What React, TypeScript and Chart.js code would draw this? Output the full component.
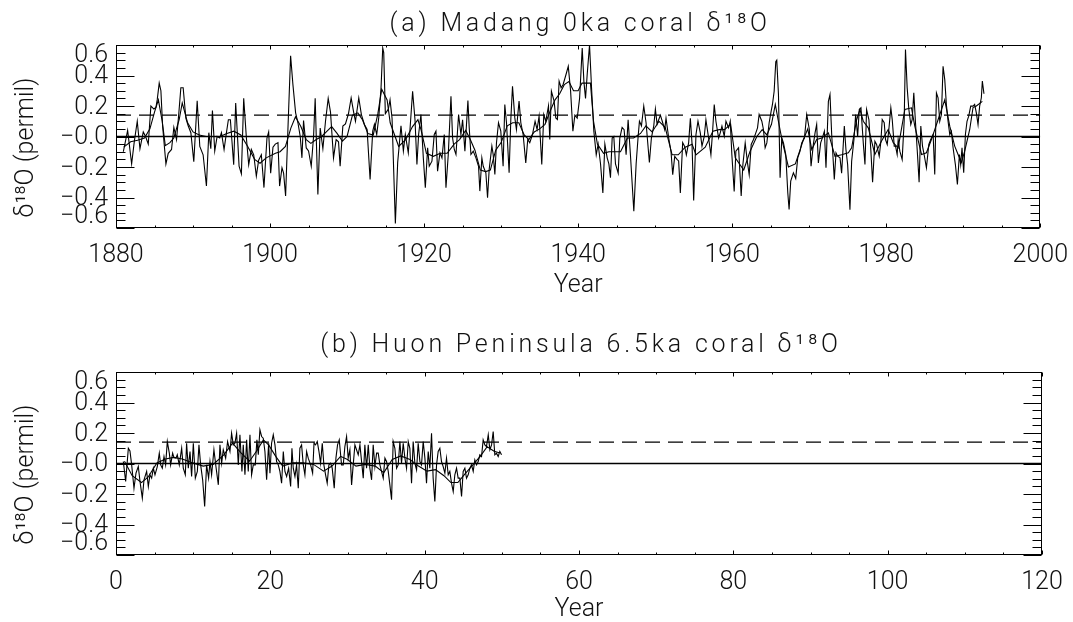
import React, { useEffect, useRef } from "react";
import { Chart, registerables } from "chart.js";

Chart.register(...registerables);

// ---------------- DATA ----------------
// (a) Madang 0ka coral d18O anomaly: [year, permil]
const madangRaw: [number, number][] = [
  [1880.95,-0.10],[1881.51,0.04],[1882.03,-0.18],[1882.37,-0.035],[1882.76,0.10],[1883.11,-0.08],[1883.54,0.03],[1883.84,0.00],[1884.19,-0.05],[1884.53,0.20],[1884.92,0.18],[1885.18,0.19],[1885.35,0.24],[1885.61,0.35],[1885.83,0.30],[1886.05,0.07],[1886.48,-0.18],[1886.78,-0.11],[1887.21,-0.085],[1887.51,0.06],[1887.86,-0.02],[1888.16,0.155],[1888.42,0.32],[1888.72,0.32],[1889.07,0.12],[1889.37,0.07],[1889.72,0.025],
  [1890.10,-0.165],[1890.54,0.235],[1890.88,-0.065],[1891.31,-0.12],[1891.74,-0.325],[1892.05,0.025],[1892.31,-0.08],[1892.52,0.17],[1892.82,-0.095],[1893.13,0.0],[1893.47,-0.01],[1893.69,0.025],[1894.03,-0.085],[1894.34,0.025],[1894.59,0.11],[1894.85,0.11],[1895.28,-0.185],[1895.54,0.22],[1895.98,-0.195],[1896.28,-0.245],[1896.58,0.25],[1896.93,-0.01],[1897.23,-0.185],[1897.57,-0.085],[1897.88,-0.12],[1898.22,-0.26],[1898.52,-0.155],[1898.87,-0.12],[1899.21,-0.335],[1899.60,-0.01],[1899.82,0.03],
  [1900.08,-0.24],[1900.38,-0.07],[1900.68,-0.05],[1901.03,-0.04],[1901.24,-0.325],[1901.55,-0.205],[1901.76,-0.24],[1902.02,-0.39],[1902.32,0.045],[1902.67,0.53],[1902.97,0.34],[1903.32,0.155],[1903.62,0.09],[1903.92,0.0],[1904.14,-0.14],[1904.35,0.105],[1904.70,-0.075],[1905.00,-0.095],[1905.35,-0.195],[1905.65,0.0],[1905.86,0.25],[1906.21,-0.38],[1906.51,0.055],[1906.86,-0.08],[1907.20,0.10],[1907.55,0.25],[1907.85,0.16],[1908.24,-0.14],[1908.58,-0.02],[1908.89,-0.035],[1909.10,-0.195],[1909.45,0.068],[1909.79,0.083],
  [1910.18,0.149],[1910.53,0.253],[1910.87,0.155],[1911.09,0.10],[1911.52,0.253],[1911.86,0.144],[1912.25,0.079],[1912.60,0.046],[1912.99,-0.282],[1913.33,0.035],[1913.55,0.079],[1913.85,0.013],[1914.11,0.122],[1914.41,0.319],[1914.63,0.58],[1914.76,0.55],[1914.97,0.15],[1915.36,0.18],[1915.58,0.24],[1915.84,0.12],[1916.27,-0.57],[1916.57,-0.17],[1917.00,0.07],[1917.31,-0.095],[1917.56,0.013],[1917.95,-0.107],[1918.17,0.046],[1918.51,0.297],[1918.82,0.11],[1919.07,-0.184],[1919.29,0.013],[1919.59,0.144],[1919.90,-0.140],
  [1920.16,-0.336],[1920.46,-0.074],[1920.67,-0.195],[1921.02,-0.162],[1921.32,0.013],[1921.54,0.035],[1921.75,-0.227],[1922.06,-0.107],[1922.32,-0.140],[1922.62,0.013],[1922.84,-0.336],[1923.14,-0.118],[1923.49,0.264],[1923.70,-0.009],[1923.92,-0.085],[1924.14,-0.118],[1924.48,0.144],[1924.78,0.013],[1925.00,0.11],[1925.30,-0.096],[1925.69,0.236],[1925.86,0.057],[1926.08,-0.118],[1926.38,-0.096],[1926.73,-0.140],[1927.07,-0.195],[1927.24,-0.358],[1927.50,-0.140],[1927.68,-0.195],[1928.02,-0.238],[1928.24,-0.402],[1928.45,-0.216],[1928.80,-0.063],[1928.97,-0.118],[1929.19,-0.249],[1929.40,-0.041],[1929.66,0.090],[1929.96,0.035],
  [1930.26,-0.195],[1930.48,0.210],[1930.70,0.090],[1931.04,-0.238],[1931.26,0.112],[1931.48,0.330],[1931.78,0.122],[1931.99,0.046],[1932.33,0.232],[1932.56,0.09],[1932.86,0.013],[1933.20,-0.173],[1933.46,-0.020],[1933.72,-0.041],[1934.07,0.013],[1934.41,0.10],[1934.67,0.046],[1934.93,0.133],[1935.28,-0.184],[1935.54,0.144],[1935.80,0.10],[1936.15,0.20],[1936.32,-0.02],[1936.53,0.297],[1936.88,0.232],[1937.10,0.122],[1937.31,0.112],[1937.53,0.363],[1937.79,0.320],[1938.05,0.341],[1938.39,0.40],[1938.72,0.46],[1939.02,0.30],[1939.32,0.035],[1939.58,0.14],[1939.88,0.12],
  [1940.19,0.25],[1940.53,0.58],[1940.75,0.36],[1940.96,0.25],[1941.18,0.41],[1941.48,0.60],[1941.74,0.32],[1942.04,0.035],[1942.35,-0.12],[1942.60,-0.05],[1942.91,-0.18],[1943.21,-0.37],[1943.47,-0.05],[1943.77,-0.14],[1943.99,-0.18],[1944.20,-0.27],[1944.42,-0.01],[1944.63,0.00],[1944.85,-0.18],[1945.20,-0.24],[1945.41,-0.01],[1945.71,0.06],[1945.97,0.045],[1946.23,-0.12],[1946.49,0.11],[1946.79,-0.12],[1947.23,-0.49],[1947.53,-0.18],[1947.79,0.00],[1947.96,0.10],[1948.22,0.07],[1948.52,0.20],[1948.82,0.09],[1949.25,-0.17],[1949.51,-0.01],[1949.82,0.07],
  [1950.03,0.18],[1950.25,0.08],[1950.46,0.11],[1950.68,0.14],[1950.98,0.09],[1951.24,0.045],[1951.41,0.12],[1951.76,-0.01],[1952.06,-0.10],[1952.28,-0.25],[1952.54,-0.13],[1952.84,-0.15],[1953.05,-0.16],[1953.27,-0.37],[1953.57,-0.04],[1953.83,-0.065],[1954.05,-0.12],[1954.35,-0.04],[1954.57,0.12],[1954.78,-0.04],[1955.00,-0.42],[1955.30,0.013],[1955.56,0.10],[1955.86,0.024],[1956.08,-0.063],[1956.38,0.002],[1956.59,0.11],[1956.94,-0.01],[1957.24,-0.12],[1957.46,0.035],[1957.67,0.21],[1957.89,0.10],[1958.24,-0.01],[1958.45,0.024],[1958.67,0.068],[1958.97,0.002],[1959.19,0.10],[1959.53,0.057],[1959.75,0.10],[1959.96,-0.12],
  [1960.26,-0.36],[1960.48,-0.096],[1960.83,-0.074],[1961.17,-0.39],[1961.39,-0.184],[1961.69,-0.042],[1961.99,-0.173],[1962.21,-0.25],[1962.47,-0.052],[1962.77,-0.02],[1963.07,0.024],[1963.29,0.057],[1963.50,0.144],[1963.85,0.10],[1964.06,0.046],[1964.28,-0.074],[1964.50,-0.042],[1964.80,0.09],[1965.06,0.166],[1965.23,0.21],[1965.45,0.297],[1965.66,0.49],[1965.79,0.50],[1966.01,0.275],[1966.22,-0.27],[1966.44,-0.01],[1966.66,-0.042],[1966.96,-0.118],[1967.22,-0.369],[1967.39,-0.479],[1967.60,-0.293],[1967.95,-0.238],[1968.25,-0.275],[1968.51,-0.14],[1968.81,-0.096],[1969.03,-0.042],[1969.38,-0.01],[1969.68,0.144],
  [1970.02,0.046],[1970.24,-0.195],[1970.54,-0.052],[1970.76,0.024],[1970.97,0.079],[1971.19,-0.173],[1971.49,-0.042],[1971.71,-0.009],[1971.97,0.035],[1972.18,-0.205],[1972.49,0.23],[1972.70,0.275],[1972.92,0.013],[1973.26,-0.282],[1973.48,-0.107],[1973.69,-0.129],[1974.00,-0.140],[1974.21,-0.24],[1974.56,0.068],[1974.77,-0.085],[1974.99,-0.184],[1975.29,-0.48],[1975.51,-0.162],[1975.81,-0.02],[1976.03,0.144],[1976.29,0.002],[1976.50,0.177],[1976.72,0.188],[1977.02,-0.042],[1977.24,-0.184],[1977.45,0.177],[1977.75,0.111],[1978.01,-0.096],[1978.23,-0.30],[1978.53,-0.031],[1978.75,-0.052],[1979.09,-0.129],[1979.31,-0.031],[1979.48,0.111],[1979.74,0.09],[1979.91,-0.02],
  [1980.13,-0.052],[1980.34,0.046],[1980.60,0.188],[1980.78,0.111],[1981.04,-0.063],[1981.21,-0.063],[1981.42,-0.118],[1981.55,-0.02],[1981.77,-0.096],[1982.07,-0.151],[1982.33,0.10],[1982.50,0.57],[1982.72,0.319],[1982.94,0.177],[1983.19,0.079],[1983.37,0.111],[1983.58,0.286],[1983.80,0.09],[1984.06,-0.118],[1984.27,-0.30],[1984.49,0.068],[1984.71,-0.063],[1984.92,-0.118],[1985.22,-0.205],[1985.53,-0.052],[1985.78,-0.02],[1986.09,0.013],[1986.30,-0.249],[1986.52,0.286],[1986.73,0.254],[1986.95,0.10],[1987.17,0.144],[1987.38,0.461],[1987.60,0.373],[1987.81,0.210],[1988.03,0.10],[1988.25,0.013],[1988.46,0.035],[1988.68,-0.074],[1988.98,-0.184],[1989.24,-0.315],[1989.50,-0.118],[1989.67,-0.184],[1989.84,-0.074],
  [1990.06,-0.238],[1990.28,0.013],[1990.49,0.10],[1990.71,0.133],[1990.97,0.199],[1991.27,0.199],[1991.48,0.21],[1991.70,0.155],[1991.92,0.079],[1992.13,0.199],[1992.35,0.254],[1992.48,0.363],[1992.69,0.28],
];

const madangSmooth: [number, number][] = [
  [1881.0,-0.07],[1881.9,-0.035],[1882.8,-0.025],[1883.7,-0.01],[1884.4,0.05],[1885.0,0.16],[1885.5,0.24],[1886.0,0.10],[1886.4,-0.06],[1887.0,-0.04],[1887.5,-0.01],[1888.2,0.11],[1888.6,0.22],[1889.3,0.09],[1890.0,0.03],[1890.8,0.01],[1891.7,0.00],[1892.6,0.00],[1893.5,0.00],[1894.4,0.02],[1895.3,0.035],[1896.2,0.01],[1897.1,-0.065],[1898.0,-0.15],[1898.7,-0.175],[1899.5,-0.14],[1900.7,-0.11],[1901.3,-0.10],[1902.0,-0.065],[1902.7,0.055],[1903.3,0.13],[1904.0,0.065],[1904.7,-0.02],[1905.3,-0.045],[1906.0,-0.02],[1906.7,0.00],[1907.4,0.035],[1908.0,0.065],[1908.7,0.02],[1909.4,-0.03],
  [1910.0,0.00],[1910.7,0.14],[1911.4,0.155],[1912.0,0.11],[1912.7,0.02],[1913.4,0.01],[1914.0,0.15],[1914.5,0.31],[1915.2,0.24],[1915.6,0.09],[1916.7,-0.065],[1917.6,-0.02],[1918.5,0.065],[1919.2,0.11],[1919.6,0.045],[1920.3,-0.11],[1921.2,-0.13],[1922.1,-0.11],[1923.0,-0.11],[1923.9,-0.05],[1924.6,-0.02],[1925.4,0.04],[1926.0,-0.02],[1926.6,-0.09],[1927.3,-0.22],[1928.0,-0.23],[1928.6,-0.22],[1929.3,-0.09],[1930.0,-0.04],[1930.8,0.07],[1931.5,0.09],[1932.3,0.09],[1933.0,0.01],[1933.6,-0.02],[1934.3,0.03],[1935.0,0.05],[1935.7,0.08],[1936.4,0.17],[1937.0,0.24],[1937.6,0.28],[1938.2,0.34],[1938.8,0.36],[1939.4,0.30],
  [1940.0,0.30],[1940.5,0.35],[1941.6,0.35],[1942.0,0.10],[1942.5,-0.05],[1943.3,-0.11],[1944.0,-0.10],[1944.6,-0.10],[1945.5,-0.10],[1946.4,-0.01],[1947.2,-0.01],[1948.1,0.02],[1948.8,0.07],[1949.6,0.03],[1950.5,0.10],[1951.3,0.06],[1952.2,-0.12],[1953.0,-0.12],[1953.9,-0.07],[1954.8,-0.05],[1955.3,-0.12],[1956.5,-0.07],[1957.5,0.035],[1958.3,0.045],[1959.0,0.045],[1959.8,0.08],[1960.4,-0.14],[1961.5,-0.22],[1962.3,-0.10],[1963.2,0.00],[1963.9,0.045],[1964.5,0.01],[1965.1,0.08],[1965.6,0.21],[1966.0,0.10],[1966.5,-0.03],[1967.3,-0.20],[1968.2,-0.18],[1968.9,-0.075],[1969.25,-0.02],[1969.81,0.05],
  [1970.33,-0.085],[1970.97,-0.02],[1971.62,-0.01],[1972.49,0.024],[1973.35,-0.13],[1974.21,-0.12],[1975.08,-0.107],[1975.51,-0.074],[1976.16,0.11],[1976.59,0.177],[1977.02,0.10],[1977.67,0.057],[1978.53,-0.118],[1979.39,-0.03],[1980.26,0.046],[1980.91,-0.04],[1981.55,-0.074],[1982.42,0.177],[1983.28,0.188],[1983.71,0.068],[1984.58,-0.118],[1985.22,-0.107],[1985.87,-0.02],[1986.73,0.11],[1987.60,0.24],[1988.25,0.068],[1988.89,-0.063],[1989.33,-0.118],[1989.76,-0.17],[1990.19,-0.096],[1990.84,0.046],[1991.27,0.19],[1991.70,0.20],[1992.48,0.23],
];

// (b) Huon Peninsula 6.5ka coral d18O anomaly: [year, permil]
const huonRaw: [number, number][] = [
  [0.95,0.013],[1.25,-0.118],[1.60,0.10],[1.81,0.083],[2.03,-0.009],[2.33,-0.162],[2.59,-0.063],[2.89,-0.02],[3.11,-0.118],[3.41,-0.227],[3.63,-0.107],[3.97,-0.052],[4.19,-0.151],[4.40,-0.074],[4.62,-0.096],[4.84,-0.031],[5.05,-0.074],[5.35,-0.02],[5.61,0.068],[5.79,-0.009],[6.00,-0.031],[6.22,0.046],[6.43,-0.009],[6.65,0.144],[6.91,0.068],[7.08,-0.009],[7.34,0.068],[7.51,0.039],[7.77,0.035],[7.94,0.057],[8.20,-0.009],[8.51,0.10],[8.72,-0.031],[8.98,-0.074],[9.15,0.133],[9.37,-0.031],[9.59,0.079],[9.80,-0.085],
  [10.02,0.133],[10.28,-0.096],[10.54,-0.052],[10.75,0.122],[10.97,-0.009],[11.23,-0.107],[11.49,-0.282],[11.74,-0.009],[12.00,-0.096],[12.18,0.013],[12.39,-0.074],[12.69,0.09],[12.95,-0.02],[13.26,-0.14],[13.47,0.122],[13.69,0.002],[13.90,0.09],[14.21,0.035],[14.46,0.144],[14.77,0.079],[14.98,0.199],[15.20,0.122],[15.41,0.133],[15.63,0.199],[15.85,-0.009],[16.06,0.188],[16.32,-0.052],[16.49,0.122],[16.71,-0.074],[16.93,0.155],[17.14,-0.052],[17.36,0.188],[17.57,-0.074],[17.79,-0.009],[18.05,-0.009],[18.26,0.155],[18.44,0.057],[18.65,0.221],[18.87,0.177],[19.08,0.166],[19.30,0.079],[19.52,-0.107],[19.78,0.133],[19.95,-0.063],
  [20.16,0.133],[20.38,0.188],[20.60,0.122],[20.81,0.013],[21.03,-0.009],[21.24,-0.052],[21.46,-0.129],[21.68,0.079],[21.89,-0.052],[22.11,-0.085],[22.37,-0.031],[22.63,-0.151],[22.80,0.10],[22.97,-0.031],[23.19,-0.085],[23.40,-0.009],[23.62,-0.162],[23.83,0.10],[24.05,0.122],[24.27,-0.009],[24.48,-0.074],[24.70,0.079],[24.91,0.035],[25.22,-0.009],[25.48,-0.063],[25.66,0.133],[25.86,0.122],[26.08,0.144],[26.30,0.079],[26.51,0.002],[26.73,0.133],[26.94,-0.009],[27.16,-0.074],[27.37,-0.129],[27.59,-0.009],[27.81,0.002],[28.02,-0.031],[28.28,-0.162],[28.50,0.035],[28.71,0.122],[28.93,0.155],[29.23,-0.009],[29.45,-0.009],[29.66,0.111],[29.88,0.177],
  [30.09,0.035],[30.31,0.09],[30.53,-0.14],[30.74,-0.009],[30.96,0.122],[31.17,0.09],[31.39,0.057],[31.61,0.122],[31.87,-0.009],[32.04,-0.096],[32.25,0.122],[32.47,-0.031],[32.69,0.122],[32.90,-0.031],[33.12,-0.107],[33.33,0.122],[33.55,-0.02],[33.77,0.068],[33.98,0.068],[34.20,-0.009],[34.41,-0.052],[34.63,-0.096],[34.85,0.035],[35.06,0.013],[35.28,-0.052],[35.49,-0.14],[35.71,-0.238],[35.92,0.144],[36.14,0.10],[36.36,-0.031],[36.57,-0.009],[36.79,0.144],[37.00,0.002],[37.22,0.133],[37.44,0.035],[37.65,-0.031],[37.87,0.144],[38.08,0.10],[38.30,-0.129],[38.51,0.144],[38.73,0.002],[38.95,-0.042],[39.16,0.133],[39.38,0.013],[39.59,-0.009],[39.81,0.144],
  [40.03,0.035],[40.24,-0.129],[40.46,0.079],[40.67,-0.031],[40.89,0.199],[41.10,-0.096],[41.32,-0.249],[41.54,-0.009],[41.75,0.079],[41.97,0.10],[42.18,0.013],[42.40,-0.02],[42.62,-0.063],[42.83,0.035],[43.05,-0.074],[43.26,-0.052],[43.48,-0.129],[43.70,-0.184],[43.91,-0.074],[44.13,-0.031],[44.34,-0.096],[44.56,-0.096],[44.78,-0.216],[44.99,-0.052],[45.21,-0.031],[45.42,-0.096],[45.64,-0.074],[45.86,-0.031],[46.07,-0.009],[46.29,-0.052],[46.50,0.024],[46.72,-0.009],[46.94,0.013],[47.15,0.057],[47.37,0.046],[47.58,0.155],[47.80,0.122],[48.01,0.111],[48.24,0.188],[48.45,0.09],[48.67,0.122],[48.88,0.21],[49.09,0.057],[49.31,0.068],[49.53,0.046],[49.74,0.079],[49.96,0.057],
];

const huonSmooth: [number, number][] = [
  [1.1,0.015],[2.1,-0.08],[3.3,-0.125],[4.15,-0.09],[5.3,0.004],[6.4,0.03],[7.5,0.04],[8.6,0.03],[9.95,0.004],[11.3,-0.017],[12.6,-0.006],[14.0,0.058],[15.1,0.134],[16.2,0.07],[17.3,0.015],[18.2,0.08],[19.1,0.155],[19.8,0.12],[20.7,0.047],[21.6,-0.017],[22.9,0.004],[24.2,0.004],[25.6,-0.006],[26.9,-0.05],[28.0,-0.017],[29.1,0.047],[30.0,0.026],[31.1,-0.017],[32.3,-0.006],[33.6,-0.017],[34.7,-0.06],[35.8,0.026],[36.9,0.05],[38.1,0.026],[39.2,-0.017],[40.3,-0.05],[41.4,-0.04],[42.5,-0.08],[43.4,-0.125],[44.3,-0.125],[45.2,-0.07],[46.3,-0.006],[47.2,0.047],[48.1,0.11],[49.0,0.08],[49.65,0.07],
];

// Axes / reference levels
const Y_RANGE: [number, number] = [-0.6, 0.6];
const Y_TICKS = [0.6, 0.4, 0.2, 0.0, -0.2, -0.4, -0.6];
const MADANG_X_RANGE: [number, number] = [1880, 2000];
const HUON_X_RANGE: [number, number] = [0, 120];
const X_STEP = 20;
const REFERENCE_LEVEL = 0.14; // dashed line
const ZERO_LEVEL = 0;

const TITLE_A = "(a) Madang 0ka coral \u03b4\u00b9\u2078O";
const TITLE_B = "(b) Huon Peninsula 6.5ka coral \u03b4\u00b9\u2078O";
const Y_TITLE = "\u03b4\u00b9\u2078O (permil)";
const X_TITLE = "Year";

// ---------------- STYLE ----------------
const FONT = 'Roboto, "Liberation Sans", Arial, sans-serif';
const FONT_WEIGHT = 300;
const FONT_SIZE = 25;
const TEXT_COLOR = "#111";
const LINE_COLOR = "#000";

const fmtY = (v: number) => {
  if (Math.abs(v) < 1e-9) return "\u22120.0";
  return v < 0 ? "\u2212" + Math.abs(v).toFixed(1) : v.toFixed(1);
};

const idlFrame = {
  id: "idlFrame",
  afterDraw(chart: any, _args: any, opts: any) {
    const { ctx, chartArea: a, scales } = chart;
    const xs = scales.x;
    const ys = scales.y;
    ctx.save();
    ctx.strokeStyle = LINE_COLOR;
    ctx.lineWidth = 1;
    const L = Math.round(a.left) + 0.5;
    const R = Math.round(a.right) - 0.5;
    const T = Math.round(a.top) + 0.5;
    const B = Math.round(a.bottom) - 0.5;
    ctx.strokeRect(L, T, R - L, B - T);
    ctx.beginPath();
    const yMinor = 0.05;
    const ny = Math.round((Y_RANGE[1] - Y_RANGE[0]) / yMinor);
    for (let k = 0; k <= ny; k++) {
      const v = Y_RANGE[0] + k * yMinor;
      const py = Math.round(ys.getPixelForValue(v)) + 0.5;
      const len = k % 4 === 0 ? 18 : 9;
      ctx.moveTo(L, py);
      ctx.lineTo(L + len, py);
      ctx.moveTo(R, py);
      ctx.lineTo(R - len, py);
    }
    const [x0, x1] = opts.xRange;
    const xMinor = X_STEP / 4;
    const nx = Math.round((x1 - x0) / xMinor);
    for (let k = 0; k <= nx; k++) {
      const px = Math.round(xs.getPixelForValue(x0 + k * xMinor)) + 0.5;
      const len = k % 4 === 0 ? 4 : 2;
      ctx.moveTo(px, B);
      ctx.lineTo(px, B - len);
      ctx.moveTo(px, T);
      ctx.lineTo(px, T + len);
    }
    ctx.stroke();

    // y tick labels
    ctx.fillStyle = TEXT_COLOR;
    ctx.font = `${FONT_WEIGHT} ${FONT_SIZE}px ${FONT}`;
    ctx.textAlign = "right";
    ctx.textBaseline = "middle";
    for (const v of Y_TICKS) {
      let dy = 1.5;
      if (v === Y_RANGE[1]) dy = 11;
      if (v === Y_RANGE[0]) dy = -11;
      ctx.fillText(fmtY(v), a.left - 8, ys.getPixelForValue(v) + dy);
    }

    // y axis title
    ctx.save();
    ctx.translate(27, (a.top + a.bottom) / 2 + 11);
    ctx.rotate(-Math.PI / 2);
    ctx.textAlign = "center";
    ctx.fillText(Y_TITLE, 0, 0);
    ctx.restore();

    // panel title
    ctx.textAlign = "center";
    (ctx as any).letterSpacing = "3.8px";
    ctx.fillText(opts.title, (a.left + a.right) / 2 + 2, opts.titleY);
    ctx.restore();
  },
};

const toPts = (arr: [number, number][]) => arr.map(([x, y]) => ({ x, y }));

function makeConfig(
  raw: [number, number][],
  smooth: [number, number][],
  xRange: [number, number],
  title: string,
  titleY: number,
  padTop: number,
  xAxisHeight: number,
  xTitleBottom: number
): any {
  const lineBase = { pointRadius: 0, tension: 0, fill: false, borderColor: LINE_COLOR };
  const axisFont = { family: FONT, size: FONT_SIZE, weight: FONT_WEIGHT };
  return {
    type: "line",
    data: {
      datasets: [
        { ...lineBase, data: [{ x: xRange[0], y: ZERO_LEVEL }, { x: xRange[1], y: ZERO_LEVEL }], borderWidth: 1.5 },
        { ...lineBase, data: [{ x: xRange[0], y: REFERENCE_LEVEL }, { x: xRange[1], y: REFERENCE_LEVEL }], borderWidth: 1.3, borderDash: [15, 8] },
        { ...lineBase, data: toPts(raw), borderWidth: 1.1 },
        { ...lineBase, data: toPts(smooth), borderWidth: 1.1 },
      ],
    },
    options: {
      responsive: false,
      animation: false,
      devicePixelRatio: 1,
      layout: { padding: { top: padTop, right: 1073 - 1042, bottom: 0, left: 0 } },
      plugins: {
        legend: { display: false },
        tooltip: { enabled: false },
        idlFrame: { title, titleY, xRange },
      },
      scales: {
        x: {
          type: "linear",
          position: "bottom",
          min: xRange[0],
          max: xRange[1],
          grid: { display: false },
          border: { display: false },
          ticks: {
            stepSize: X_STEP,
            autoSkip: false,
            maxRotation: 0,
            padding: 5,
            color: TEXT_COLOR,
            font: axisFont,
            callback: (v: number) => String(v),
          },
          title: {
            display: true,
            text: X_TITLE,
            color: TEXT_COLOR,
            font: axisFont,
            padding: { top: 0, bottom: xTitleBottom },
          },
          afterFit: (s: any) => {
            s.height = xAxisHeight;
          },
        },
        y: {
          type: "linear",
          min: Y_RANGE[0],
          max: Y_RANGE[1],
          grid: { display: false },
          border: { display: false },
          ticks: { display: false },
          afterFit: (s: any) => {
            s.width = 116;
          },
        },
      },
    },
    plugins: [idlFrame],
  };
}

export default function App() {
  const refA = useRef<HTMLCanvasElement>(null);
  const refB = useRef<HTMLCanvasElement>(null);
  useEffect(() => {
    const cA = new Chart(refA.current!, makeConfig(madangRaw, madangSmooth, MADANG_X_RANGE, TITLE_A, 25, 45, 83, 10));
    const cB = new Chart(refB.current!, makeConfig(huonRaw, huonSmooth, HUON_X_RANGE, TITLE_B, 35, 61, 67, -3));
    return () => {
      cA.destroy();
      cB.destroy();
    };
  }, []);
  return (
    <div style={{ position: "absolute", left: 0, top: 0, width: 1073, height: 622, background: "#fff" }}>
      <canvas ref={refA} width={1073} height={311} style={{ position: "absolute", left: 0, top: 0 }} />
      <canvas ref={refB} width={1073} height={311} style={{ position: "absolute", left: 0, top: 311 }} />
    </div>
  );
}
